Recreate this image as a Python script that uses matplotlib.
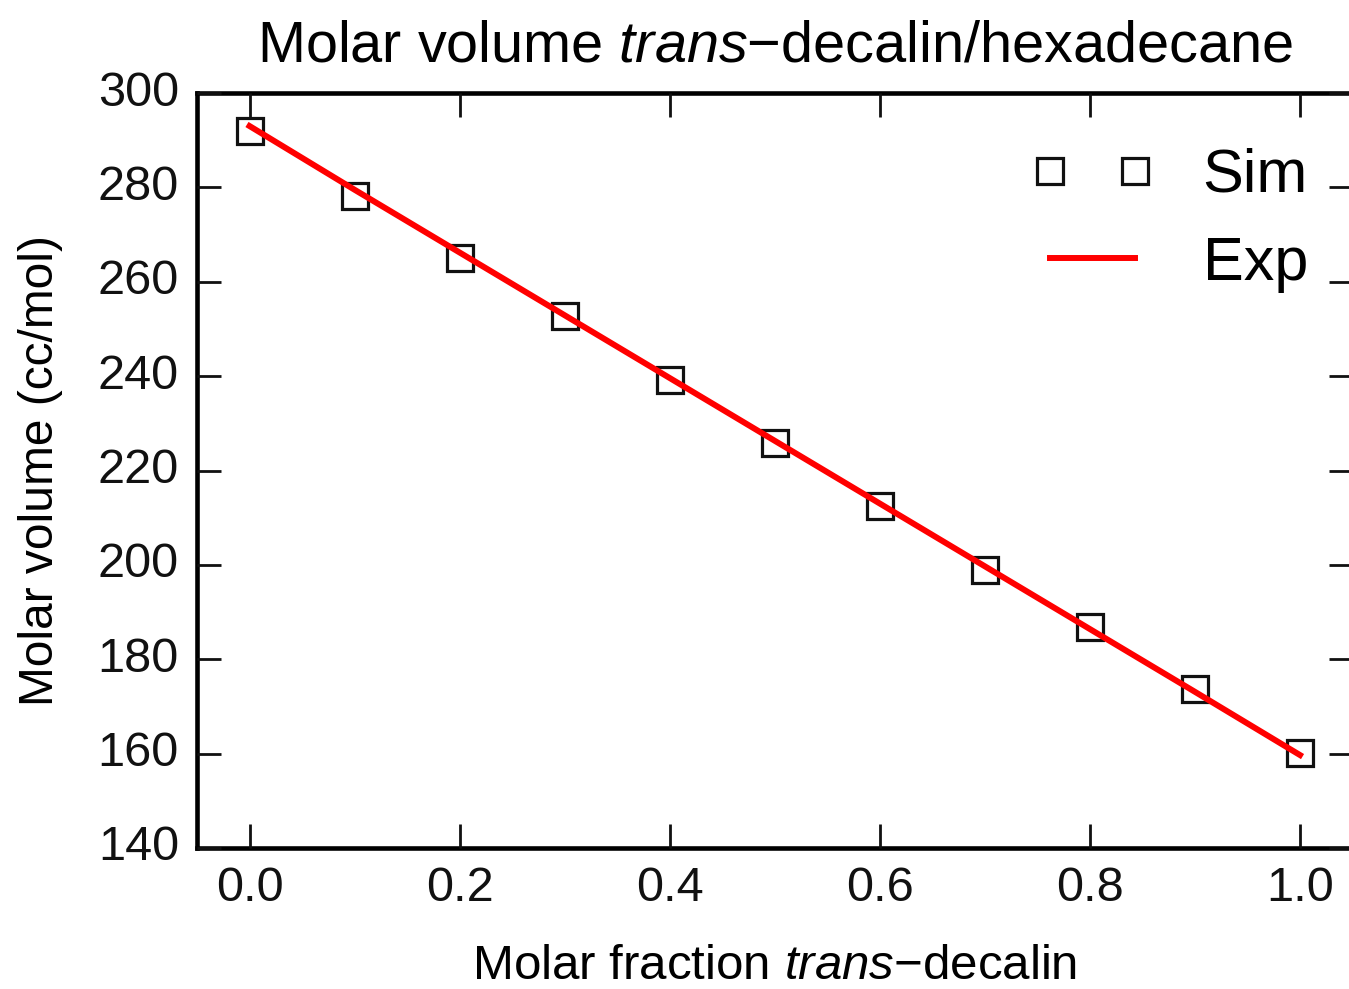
import matplotlib
matplotlib.use('Agg')
import matplotlib.pyplot as plt

plt.style.use('classic')
plt.rcParams['font.family'] = ['Liberation Sans', 'DejaVu Sans']
plt.rcParams['mathtext.fontset'] = 'custom'
plt.rcParams['mathtext.it'] = 'Liberation Sans:italic'
plt.rcParams['mathtext.rm'] = 'Liberation Sans'

x_frac = [0.0, 0.1, 0.2, 0.3, 0.4, 0.5, 0.6, 0.7, 0.8, 0.9, 1.0]
sim_vol = [292.0, 278.2, 265.0, 252.8, 239.2, 225.8, 212.5, 199.0, 186.9, 173.7, 160.2]
exp_vol = [293.0, 279.5, 266.2, 252.9, 239.6, 226.3, 213.0, 199.7, 186.4, 173.1, 159.7]
x_ticks = [0.0, 0.2, 0.4, 0.6, 0.8, 1.0]
y_ticks = [140, 160, 180, 200, 220, 240, 260, 280, 300]

fig = plt.figure(figsize=(13.49, 9.89), dpi=100, facecolor='white')
ax = fig.add_axes([197/1349, 1-848/989, (1352.5-197)/1349, (848-93)/989])
ax.set_facecolor('white')

ax.plot(x_frac, sim_vol, ls='none', marker='s', ms=18.5, mfc='none', mec='#111111',
        mew=2.3, label='Sim')
ax.plot(x_frac, exp_vol, color='red', lw=4.3, label='Exp')

ax.set_xlim(-0.05, 1.05)
ax.set_ylim(140, 300)
ax.set_xticks(x_ticks)
ax.set_yticks(y_ticks)
ax.set_xticklabels(['%.1f' % v for v in x_ticks])
for s in ax.spines.values():
    s.set_linewidth(3.3)
ax.tick_params(direction='in', length=17, width=2, labelsize=35, pad=13,
               top=True, right=True, colors='#111111')

ax.set_title(r'Molar volume $\it{trans}$$-$decalin/hexadecane', fontsize=41.5, pad=23)
ax.set_xlabel(r'Molar fraction $\it{trans}$$-$decalin', fontsize=35.5, labelpad=24)
ax.set_ylabel('Molar volume (cc/mol)', fontsize=34.5, labelpad=25)

ax.legend(loc='upper right', frameon=False, numpoints=2, fontsize=44,
          handlelength=2.0, handletextpad=0.8, borderaxespad=0.5,
          bbox_to_anchor=(1.009, 1.0))

fig.savefig('out.png', dpi=100, facecolor='white')
